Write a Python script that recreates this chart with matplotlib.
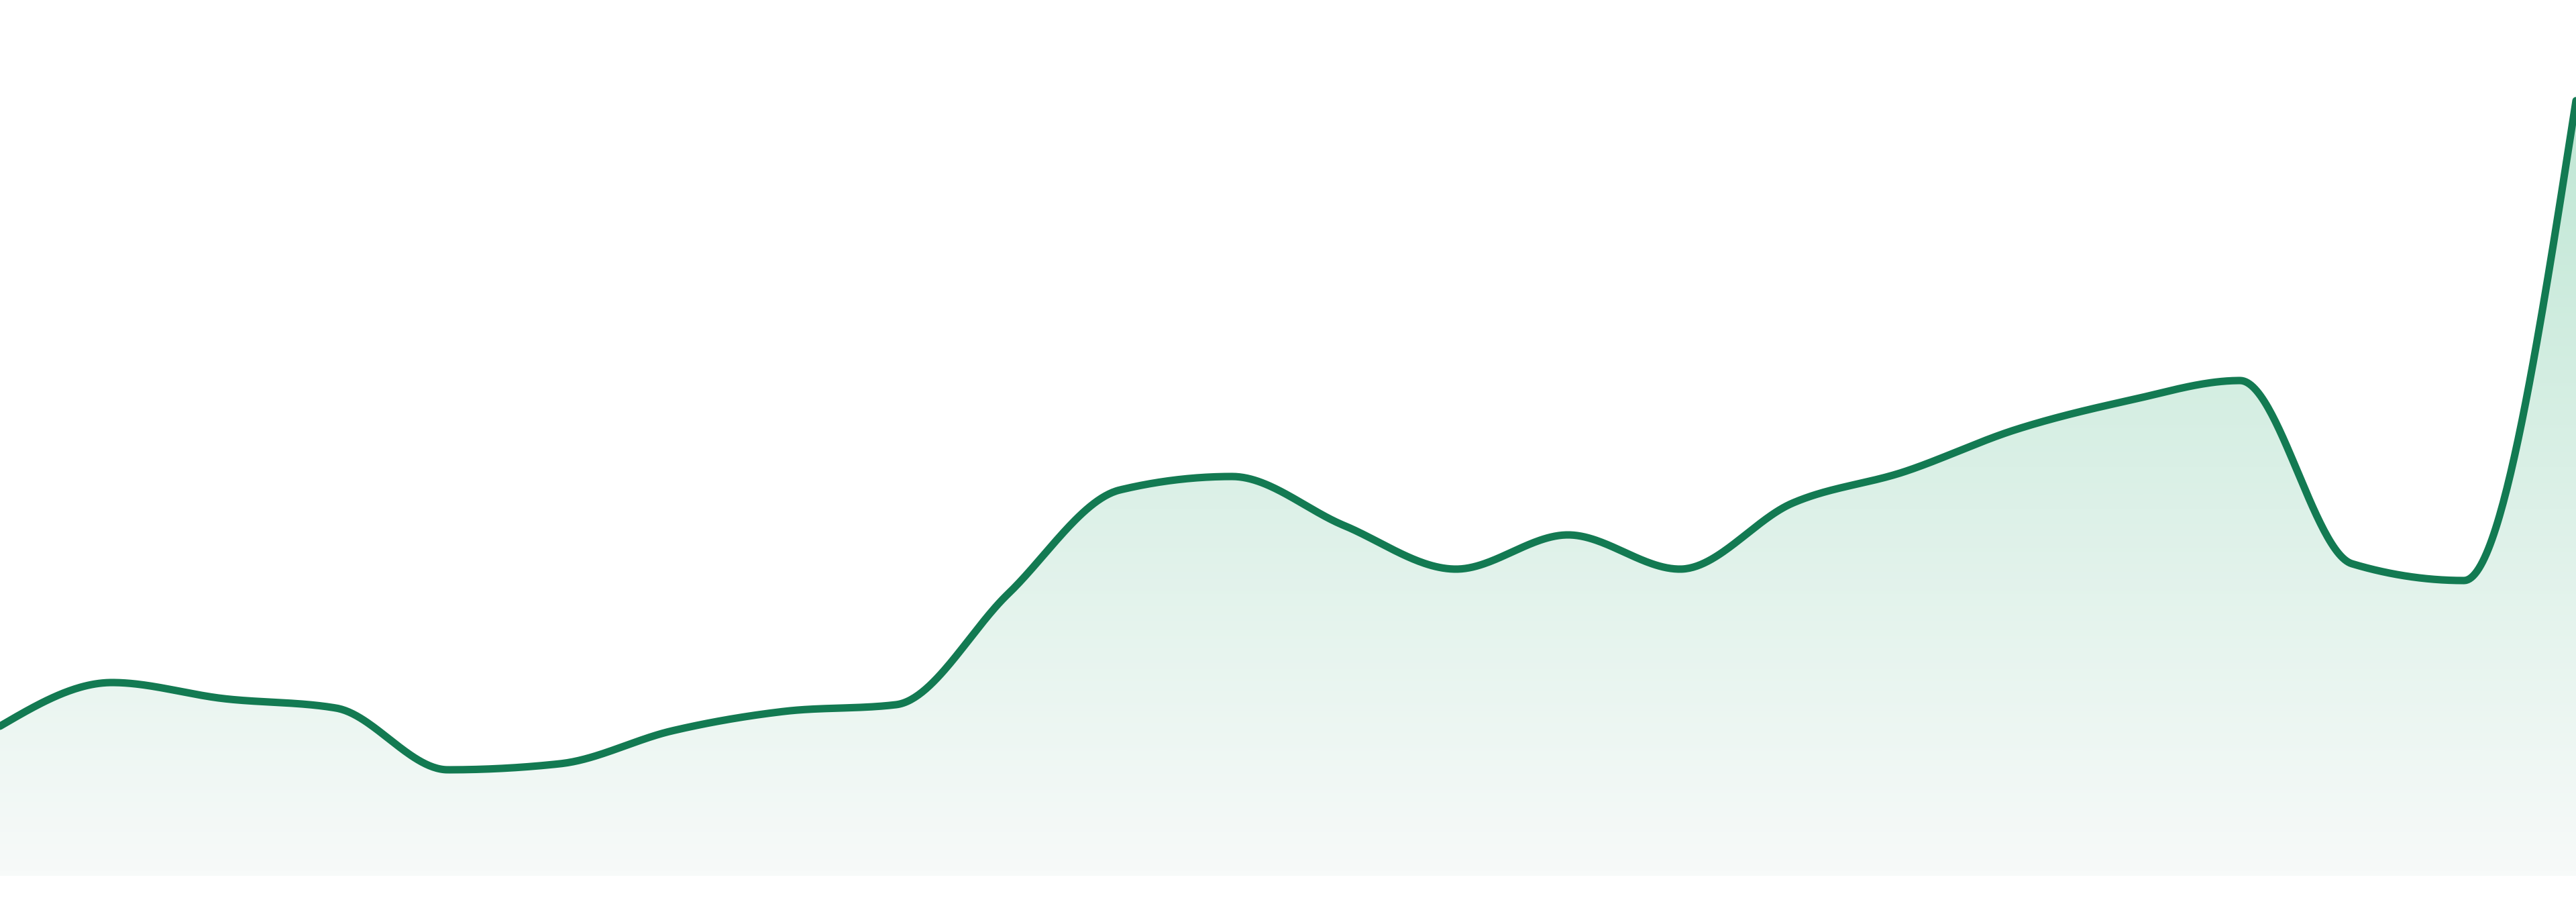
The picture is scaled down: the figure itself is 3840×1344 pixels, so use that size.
import numpy as np
import matplotlib
matplotlib.use("Agg")
import matplotlib.pyplot as plt
from matplotlib.patches import Polygon
from matplotlib.colors import LinearSegmentedColormap

# values per step (24 points, evenly spaced)
values = [22.3, 28.8, 26.4, 25.0, 15.8, 16.7, 21.6, 24.5, 25.5, 42.0, 57.5, 59.5,
          52.2, 45.7, 50.8, 45.7, 55.5, 60.2, 66.5, 70.8, 73.8, 46.5, 44.0, 115.5]
steps = np.arange(len(values))

line_color = "#137a52"
fill_top = "#c0e7d5"
fill_bottom = "#f7faf9"


def monotone_x(x, y, n=60):
    # same idea as d3.curveMonotoneX
    x = np.asarray(x, float)
    y = np.asarray(y, float)
    h = np.diff(x)
    s = np.diff(y) / h
    t = np.zeros(len(x))
    for i in range(1, len(x) - 1):
        p = (s[i - 1] * h[i] + s[i] * h[i - 1]) / (h[i - 1] + h[i])
        t[i] = (np.sign(s[i - 1]) + np.sign(s[i])) * min(abs(s[i - 1]), abs(s[i]), 0.5 * abs(p))
    t[0] = (3 * s[0] - t[1]) / 2
    t[-1] = (3 * s[-1] - t[-2]) / 2
    xs, ys = [], []
    for i in range(len(x) - 1):
        u = np.linspace(0, 1, n, endpoint=False)
        h00 = 2 * u**3 - 3 * u**2 + 1
        h10 = u**3 - 2 * u**2 + u
        h01 = -2 * u**3 + 3 * u**2
        h11 = u**3 - u**2
        xs.append(x[i] + u * h[i])
        ys.append(h00 * y[i] + h10 * h[i] * t[i] + h01 * y[i + 1] + h11 * h[i] * t[i + 1])
    xs.append([x[-1]])
    ys.append([y[-1]])
    return np.concatenate(xs), np.concatenate(ys)


cx, cy = monotone_x(steps, values)

fig = plt.figure(figsize=(38.4, 13.44), dpi=100)
ax = fig.add_axes([0, 0, 1, 1])
ax.set_xlim(steps[0], steps[-1])
ax.set_ylim(-3.9, 130.5)
ax.axis("off")

# gradient fill under the curve
verts = np.column_stack([np.r_[cx, cx[-1], cx[0]], np.r_[cy, 0, 0]])
poly = Polygon(verts, closed=True, facecolor="none", edgecolor="none")
ax.add_patch(poly)
cmap = LinearSegmentedColormap.from_list("g", [fill_bottom, fill_top])
grad = np.linspace(0, 1, 256).reshape(-1, 1)
im = ax.imshow(grad, cmap=cmap, origin="lower", aspect="auto",
               extent=[steps[0], steps[-1], 0, max(values)], interpolation="bicubic")
im.set_clip_path(poly)

ax.plot(cx, cy, color=line_color, linewidth=8, solid_capstyle="round", solid_joinstyle="round")

fig.savefig("out.png", dpi=100, facecolor="white")
